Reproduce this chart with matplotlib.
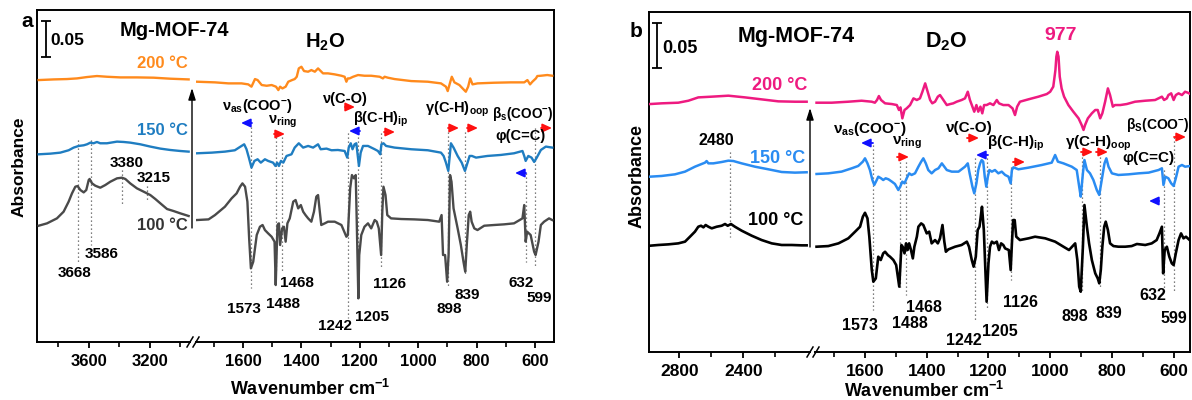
import matplotlib
matplotlib.use('Agg')
import matplotlib.pyplot as plt
from matplotlib.transforms import blended_transform_factory
from matplotlib.patches import FancyArrowPatch

plt.rcParams['font.family'] = ['Liberation Sans', 'DejaVu Sans']
plt.rcParams['font.weight'] = 'bold'
plt.rcParams['mathtext.fontset'] = 'custom'
plt.rcParams['mathtext.rm'] = 'Liberation Sans:bold'
plt.rcParams['mathtext.it'] = 'Liberation Sans:bold'
plt.rcParams['mathtext.bf'] = 'Liberation Sans:bold'
plt.rcParams['mathtext.sf'] = 'Liberation Sans:bold'
plt.rcParams['mathtext.default'] = 'rm'

# ---------------- DATA (wavenumber in cm-1, absorbance change in mAbs) ----------------
# Panel a, high-wavenumber section
A_L_WN_100 = [3929, 3874, 3809, 3765, 3732, 3710, 3688, 3673, 3655, 3633, 3616, 3600, 3594, 3578, 3557, 3524,
              3491, 3458, 3414, 3381, 3359, 3327, 3283, 3239, 3195, 3162, 3129, 3085, 3042, 2998, 2943]
A_L_100 = [-7.9, -4.6, 2.3, 11.6, 25.5, 37, 46.3, 47.2, 41.7, 38.4, 41.7, 55.6, 57, 50.9, 47.7, 44.9,
           48.6, 53.2, 57.9, 58.8, 57, 50.9, 44, 39.4, 34.7, 29.2, 23.2, 15.3, 12.5, 9.3, 5.6]
A_L_WN_150 = [3929, 3852, 3787, 3732, 3699, 3666, 3633, 3611, 3589, 3568, 3546, 3524, 3480, 3414, 3370, 3327,
              3261, 3195, 3129, 3064, 2998, 2943]
A_L_150 = [-1.4, -0.5, 0.9, 4.2, 7.9, 10.2, 11.1, 12.5, 14.8, 13.9, 15.7, 13.9, 13.9, 16.2, 15.7, 14.8,
           12.5, 9.3, 6.5, 4.6, 3.2, 2.3]
A_L_WN_200 = [3929, 3830, 3743, 3677, 3611, 3546, 3480, 3392, 3283, 3173, 3064, 2943]
A_L_200 = [2.3, 3.2, 3.7, 4.6, 6.5, 7.9, 6.9, 6, 6, 5.6, 4.2, 3.2]

# Panel a, fingerprint section
A_R_WN_100 = [1758, 1718, 1696, 1662, 1639, 1622, 1610, 1602, 1593, 1585, 1579, 1573, 1565, 1553, 1542, 1533,
              1525, 1514, 1502, 1492, 1488, 1485, 1482, 1477, 1473, 1466, 1460, 1454, 1448, 1440, 1428, 1420,
              1411, 1402, 1394, 1386, 1377, 1366, 1357, 1349, 1343, 1337, 1332, 1320, 1309, 1286, 1263, 1246,
              1241, 1233, 1227, 1220, 1214, 1210, 1205, 1202, 1195, 1184, 1172, 1161, 1149, 1142, 1135, 1127,
              1123, 1119, 1112, 1106, 1093, 1058, 1013, 967, 928, 920, 915, 908, 901, 896, 891, 886,
              879, 865, 854, 845, 839, 833, 827, 822, 817, 808, 797, 774, 740, 706, 672, 643,
              637, 632, 627, 615, 603, 598, 588, 580, 569, 552, 541]
A_R_100 = [0, 0.9, 6.9, 18.5, 30.1, 37, 46.3, 50.9, 46.3, 25.5, -25.5, -67.1, -57.9, -20.8, -9.3, -6.9,
           -13.9, -18.5, -23.2, -30.1, -90.3, -48, -7, -4.6, -34.7, -11.6, -9.3, -30.1, -4.6, 2.3, 25.5, 27.8,
           16.2, 20.8, 11.6, 6.9, 2.3, -2.3, 11.6, 32.4, 34.7, 11.6, -6.9, -4.6, -2.3, -2.3, -6.9, -23.2,
           -20.8, 44, 62.5, 57.9, 62.5, -11.6, -108.8, -48.6, -20.8, -9.3, -4.6, -11.6, 0, -2.3, -11.6, -48.6,
           11.6, 46.3, 34.7, 6.9, 2.3, 1.4, 0.9, 0, -2.3, 6.9, -48.6, -48.6, -85.7, -48.6, 62.5, 53.2,
           16.2, -11.6, -34.7, -57.9, -71.8, -30.1, 6.9, 11.6, -2.3, -11.6, -13.9, -7.9, -6.9, -6, -4.6, 2.3,
           20.8, -30.1, -16.2, -20.8, -44, -48.6, -30.1, -6.9, -2.3, 2.3, 0]
A_R_WN_150 = [1758, 1707, 1662, 1628, 1605, 1596, 1588, 1580, 1571, 1561, 1550, 1539, 1525, 1514, 1497, 1489,
              1483, 1477, 1470, 1462, 1451, 1434, 1423, 1409, 1394, 1377, 1360, 1343, 1334, 1314, 1297, 1275,
              1252, 1243, 1238, 1231, 1225, 1218, 1212, 1207, 1203, 1197, 1189, 1172, 1149, 1138, 1130, 1126,
              1119, 1110, 1081, 1024, 967, 922, 913, 905, 897, 892, 888, 879, 865, 851, 840, 831,
              824, 816, 802, 763, 717, 672, 643, 637, 632, 623, 612, 603, 594, 580, 563, 541]
A_R_150 = [0, 0.9, 2.3, 4.2, 10.2, 12.5, 5.6, -6, -19.9, -10.6, -8.3, -13, -8.3, -10.6, -13, -17.6,
           -13, -17.6, -10.6, -13, -3.7, -1.4, 7.9, 13.9, 7.9, 10.2, 7.9, 12.5, 5.6, 6.5, 4.2, 4.6,
           3.2, -6, 7.9, 13.9, 5.6, 12.5, 13.9, -3.7, -17.6, 0.9, 10.2, 10.2, 5.6, 3.2, -1.4, 12.5,
           13.9, 10.2, 7.9, 5.6, 4.2, 0.9, -3.7, -13, -24.5, -3.7, 13.9, 7.9, -3.7, -13, -24.5, -13,
           -3.7, -3.7, -6, -3.7, -2.3, 0, 3.2, -3.7, -10.6, -3.7, -6, -12, -6, 4.6, 9.3, 7.9]
A_R_WN_200 = [1758, 1696, 1650, 1605, 1582, 1571, 1559, 1550, 1536, 1519, 1502, 1487, 1479, 1473, 1465, 1454,
              1445, 1432, 1423, 1416, 1409, 1400, 1391, 1377, 1366, 1354, 1343, 1326, 1309, 1286, 1263, 1252,
              1246, 1241, 1235, 1223, 1206, 1184, 1161, 1132, 1121, 1115, 1104, 1081, 1024, 967, 922, 905,
              899, 890, 885, 876, 859, 848, 837, 829, 822, 814, 797, 740, 683, 637, 626, 617,
              609, 597, 592, 580, 558, 541]
A_R_200 = [0, -0.9, -2.3, -2.3, -3.7, -6.9, 3.7, 2.3, -4.6, -5.6, -4.6, -6.9, -11.6, -6.9, -9.3, -6.9,
           0, 2.3, 3.7, 6.9, 18.5, 20.8, 14.8, 13.9, 16.2, 13.9, 18.5, 11.6, 11.6, 10.2, 8.3, 6.9,
           0, 4.6, 4.6, 6.9, 9.3, 8.3, 8.3, 6.9, 4.6, 6.9, 5.6, 3.7, 0.9, 0, -2.3, -6.9,
           -13, 0, 6.9, -0.9, -4.6, -9.3, -13.9, -6.9, 4.6, -3.7, -2.3, -1.4, -0.9, -0.9, 2.3, -3.7,
           0, 4.6, 7.9, 8.3, 9.3, 8.3]

# Panel b, high-wavenumber section
B_L_WN_100 = [2983, 2931, 2868, 2806, 2764, 2733, 2702, 2681, 2664, 2649, 2635, 2618, 2597, 2566, 2535, 2514,
              2497, 2477, 2452, 2410, 2347, 2285, 2222, 2160, 2097, 2035, 2004]
B_L_100 = [1.1, 1.9, 2.6, 3.7, 5.6, 11.1, 16.7, 22.2, 23.3, 21.5, 24.1, 22.2, 20.4, 22.2, 23.3, 25.2,
           23.3, 25.2, 22.2, 17.8, 12.2, 7.4, 3.7, 1.9, 1.9, 1.5, 1.5]
B_L_WN_150 = [2983, 2910, 2827, 2764, 2702, 2660, 2639, 2629, 2618, 2587, 2535, 2493, 2462, 2410, 2327, 2243,
              2160, 2077, 2004]
B_L_150 = [-3, -2.2, -0.4, 2.6, 8.1, 11.1, 12.6, 14.4, 11.8, 11.8, 13.3, 14.8, 14.4, 11.8, 8.1, 5.2,
           2.2, 1.5, 1.9]
B_L_WN_200 = [2983, 2910, 2806, 2743, 2681, 2597, 2493, 2389, 2285, 2181, 2077, 2004]
B_L_200 = [-1.5, -0.7, 0, 2.2, 5.9, 6.7, 7.8, 5.9, 3.7, 1.5, 1.1, 1.1]

# Panel b, fingerprint section
B_R_WN_100 = [1757, 1719, 1686, 1654, 1632, 1616, 1607, 1600, 1592, 1586, 1578, 1573, 1565, 1557, 1549, 1541,
              1535, 1526, 1519, 1508, 1499, 1489, 1485, 1482, 1478, 1472, 1467, 1462, 1457, 1451, 1445, 1440,
              1432, 1427, 1418, 1411, 1400, 1392, 1384, 1373, 1364, 1357, 1349, 1343, 1338, 1330, 1308, 1287,
              1270, 1263, 1254, 1248, 1241, 1235, 1229, 1225, 1221, 1215, 1210, 1206, 1200, 1195, 1189, 1182,
              1173, 1166, 1159, 1152, 1146, 1134, 1128, 1124, 1120, 1115, 1110, 1098, 1070, 1049, 1016, 984,
              957, 939, 919, 912, 906, 901, 894, 889, 881, 874, 865, 854, 846, 841, 836, 831,
              825, 820, 813, 806, 795, 779, 757, 736, 719, 692, 671, 655, 646, 638, 634, 629,
              622, 614, 606, 600, 593, 584, 576, 568, 560, 546]
B_R_100 = [0, 0.7, 3.7, 9.3, 16.7, 22.2, 33.3, 37.7, 31.5, 11.1, -25.9, -38.9, -35.2, -11.1, -14.8, -7.4,
           -5.6, -9.3, -11.1, -14.8, -20.4, -44.4, -18.5, 1.9, 0, -7.4, 3.7, -3.7, 3.7, -3.7, -13, 0,
           11.1, 22.2, 25.9, 24.1, 14.8, 16.7, 3.7, 7.4, 3.7, 9.3, 24.1, 5.6, -5.6, -3, 0, 1.9,
           5.6, 0, -14.8, -22.2, -11.1, 18.5, 22.2, 33.3, 44.4, 18.5, -25.9, -61.1, -18.5, 0, 5.6, 3.7,
           5.6, -3.7, 3.7, 1.9, -1.9, -3.7, -25.9, 3.7, 29.6, 29.6, 11.1, 7.4, 9.3, 11.1, 9.3, 5.6,
           0, -3.7, 3.7, -14.8, -44.4, -50, 0, 46.3, 22.2, 3.7, -14.8, -29.6, -35.2, -40.7, -25.9, 0,
           22.2, 27.8, 18.5, 3.7, 0.7, 0, 0, 0.7, 3, 1.9, 3.7, 7.4, 14.8, 22.2, -29.6, -3.7,
           0, -11.1, -18.5, -20.4, -7.4, 7.4, 14.8, 9.3, 11.1, 6.7]
B_R_WN_150 = [1757, 1719, 1676, 1643, 1622, 1607, 1600, 1592, 1584, 1576, 1570, 1562, 1557, 1548, 1541, 1533,
              1524, 1513, 1503, 1492, 1486, 1479, 1472, 1465, 1457, 1449, 1438, 1427, 1418, 1411, 1403, 1395,
              1384, 1373, 1362, 1351, 1343, 1335, 1319, 1297, 1276, 1267, 1261, 1252, 1246, 1239, 1233, 1227,
              1222, 1217, 1212, 1207, 1202, 1197, 1189, 1179, 1168, 1157, 1146, 1135, 1128, 1124, 1119, 1103,
              1071, 1027, 995, 984, 975, 957, 930, 914, 906, 901, 894, 889, 881, 871, 860, 849,
              841, 833, 824, 818, 811, 800, 779, 746, 714, 681, 649, 638, 633, 627, 617, 608,
              600, 593, 584, 573, 563, 546]
B_R_150 = [0, 0.7, 2.6, 6.3, 8.9, 13.7, 17.4, 11.8, 4.4, -6.7, -12.2, -6.7, -3, -4.8, -6.7, -4.8,
           -5.9, -8.5, -11.1, -17.8, -14.1, -8.5, -10.4, -4.8, 0.7, -1.1, 0.7, 8.1, 13.7, 17.4, 11.8, 4.4,
           0.7, 4.4, 6.3, 11.8, 8.1, 4.4, 2.6, 2.6, 8.1, 11.8, 0.7, -14.1, -21.5, -10.4, 4.4, 11.8,
           15.5, 13.7, -3, -14.1, -3, 4.4, 2.6, 4.4, 0.7, 2.6, -1.1, -3, -10.4, 4.4, 7.4, 5.2,
           7, 10, 12.6, 21.1, 13.7, 11.8, 8.1, 4.4, -14.1, -25.2, 0.7, 15.5, 4.4, 0.7, -6.7, -17.8,
           -23.3, -6.7, 11.8, 17.4, 8.1, 0.7, -1.1, -0.4, 0.7, 1.5, 4.4, 6.3, -12.2, -3, -4.8, -10.4,
           -13.3, -4.8, 8.1, 10, 8.1, 8.9]
B_R_WN_200 = [1757, 1708, 1654, 1611, 1578, 1568, 1561, 1555, 1548, 1535, 1513, 1497, 1490, 1485, 1479, 1472,
              1465, 1454, 1443, 1432, 1422, 1414, 1405, 1397, 1389, 1382, 1373, 1364, 1357, 1346, 1335, 1324,
              1314, 1303, 1287, 1276, 1267, 1260, 1252, 1246, 1239, 1233, 1226, 1220, 1214, 1206, 1195, 1184,
              1173, 1166, 1152, 1135, 1122, 1114, 1107, 1098, 1071, 1038, 1011, 1000, 990, 983, 980, 977,
              973, 969, 963, 955, 941, 925, 908, 898, 892, 887, 878, 865, 854, 846, 838, 831,
              822, 813, 806, 797, 790, 773, 752, 725, 692, 660, 638, 631, 622, 617, 608, 600,
              593, 584, 573, 563, 554, 546]
B_R_200 = [0, 0, 1.1, 2.2, 1.1, 0, 3, 7.4, 3, -0.7, -1.5, -2.6, -8.1, -5.2, -17.4, -8.1,
           -6.3, -2.6, 4.8, 3, 4.8, 12.2, 21.5, 12.2, 3, -0.7, 1.1, 6.7, 8.5, 3, -2.6, -1.5,
           -0.7, 1.1, 3, 4.8, 12.2, 3, -4.4, -10, -2.6, -10, -4.4, -11.8, -2.6, -2.6, -0.7, -2.6,
           3, -0.7, -2.6, -2.6, -6.3, -13.7, -4.4, 1.1, 3.7, 6.7, 9.6, 12.2, 17.8, 36.3, 51.1, 56.6,
           51.1, 28.9, 15.9, 6.7, -2.6, -10, -17.4, -24.8, -30.3, -24.8, -17.4, -11.8, -8.1, -8.1, -17.4, -11.8,
           1.1, 15.9, 8.5, -4.4, -2.6, -2.6, -1.5, 1.1, 2.2, 3, 6.7, 3, 4.8, 8.5, 10.4, 3,
           8.5, 10.4, 8.5, 12.2, 11.1, 9.6]

# Stacking baselines (absorbance)
A_BASE = {'100': 0.1694, '150': 0.2621, '200': 0.3615}
B_BASE = {'100': 0.117, '150': 0.1978, '200': 0.277}

# Marked band positions
A_HI_PEAKS = [3668, 3586, 3380, 3215]
FP_PEAKS = [1573, 1488, 1468, 1242, 1205, 1126, 898, 839, 632, 599]
B_HI_PEAKS = [2480]

# ---------------- FIGURE ----------------
W, H = 1192, 400
fig = plt.figure(figsize=(W / 100, H / 100), dpi=100)


def rect(x0, x1, ytop, ybot):
    return [x0 / W, 1 - ybot / H, (x1 - x0) / W, (ybot - ytop) / H]


def ftext(x, y, s, **kw):
    kw.setdefault('ha', 'left')
    kw.setdefault('va', 'baseline')
    fig.text(x / W, 1 - y / H, s, **kw)


def harrow(x0, x1, y, color):
    p = FancyArrowPatch((x0 / W, 1 - y / H), (x1 / W, 1 - y / H), transform=fig.transFigure,
                        arrowstyle='-|>,head_length=0.55,head_width=0.25', mutation_scale=10,
                        color=color, lw=1.3, shrinkA=0, shrinkB=0)
    fig.add_artist(p)


def varrow(x, y0, y1):
    p = FancyArrowPatch((x / W, 1 - y0 / H), (x / W, 1 - y1 / H), transform=fig.transFigure,
                        arrowstyle='-|>,head_length=0.7,head_width=0.22', mutation_scale=10,
                        color='black', lw=1.0, shrinkA=0, shrinkB=0)
    fig.add_artist(p)


def vdot(ax, wn, ytop, ybot):
    tr = blended_transform_factory(ax.transData, fig.transFigure)
    ax.plot([wn, wn], [1 - ytop / H, 1 - ybot / H], transform=tr, ls=(0, (1, 2.2)), lw=0.9,
            color='#555555', zorder=1)


def breakmark(x, y):
    for dx in (0, 6):
        fig.add_artist(plt.Line2D([(x + dx - 3) / W, (x + dx + 3) / W], [1 - (y + 5) / H, 1 - (y - 5) / H],
                                  transform=fig.transFigure, color='black', lw=1.1))


def frame(r):
    ax = fig.add_axes(r)
    ax.set_xticks([])
    ax.set_yticks([])
    ax.spines['bottom'].set_visible(False)
    for s in ('left', 'right', 'top'):
        ax.spines[s].set_linewidth(1.4)
    return ax


def sub(r, xlim, ylim, major, minor, lsize, pad):
    ax = fig.add_axes(r, facecolor='none')
    ax.set_xlim(*xlim)
    ax.set_ylim(*ylim)
    for s in ('left', 'right', 'top'):
        ax.spines[s].set_visible(False)
    ax.spines['bottom'].set_linewidth(1.4)
    ax.set_yticks([])
    ax.set_xticks(major)
    ax.set_xticks(minor, minor=True)
    ax.tick_params(axis='x', which='major', direction='out', length=4.5, width=1.3, pad=pad, labelsize=lsize)
    ax.tick_params(axis='x', which='minor', direction='out', length=3.5, width=1.2)
    return ax


def curve(ax, wn, vals, base, color, lw):
    ax.plot(wn, [base + v / 1000.0 for v in vals], color=color, lw=lw, zorder=3, solid_joinstyle='round')


ORANGE = '#FF8A1C'
BLUE_A = '#1F7DC1'
GRAY = '#4A4A4A'
PINK = '#EE1A80'
BLUE_B = '#2A8CF2'
RED = '#FF1010'
BLUE_ARW = '#1010FF'

# ======== Panel a ========
YA = (0, 332 / 720)
frame(rect(37, 554, 10, 342))
axaL = sub(rect(37, 190, 10, 342), (3940, 2934), YA, [3600, 3200], [3800, 3400, 3000], 12, 4.5)
axaR = sub(rect(196, 554, 10, 342), (1761, 535), YA, [1600, 1400, 1200, 1000, 800, 600],
           [1700, 1500, 1300, 1100, 900, 700], 12, 4.5)

curve(axaL, A_L_WN_200, A_L_200, A_BASE['200'], ORANGE, 1.7)
curve(axaL, A_L_WN_150, A_L_150, A_BASE['150'], BLUE_A, 1.7)
curve(axaL, A_L_WN_100, A_L_100, A_BASE['100'], GRAY, 1.7)
curve(axaR, A_R_WN_200, A_R_200, A_BASE['200'], ORANGE, 1.7)
curve(axaR, A_R_WN_150, A_R_150, A_BASE['150'], BLUE_A, 1.7)
curve(axaR, A_R_WN_100, A_R_100, A_BASE['100'], GRAY, 1.7)

# scale bar 0.05
axaL.errorbar([3883], [(342 - 39) / 720], yerr=[0.025], color='black', lw=1.3, capsize=3.5, capthick=1.3)

for wn, yt, yb in zip(A_HI_PEAKS, [140, 140, 170, 186], [262, 245, 205, 202]):
    vdot(axaL, wn, yt, yb)
for wn, yt, yb in zip(FP_PEAKS, [127, 137, 137, 133, 133, 133, 132, 132, 173, 128],
                      [288, 270, 272, 318, 300, 268, 288, 275, 262, 268]):
    vdot(axaR, wn, yt, yb)

ftext(27, 27, 'a', ha='center', fontsize=15)
ftext(50, 45, '0.05', fontsize=12.5)
ftext(120, 36, 'Mg-MOF-74', fontsize=14.5)
ftext(305, 48, 'H$_2$O', fontsize=14.5)
ftext(188, 68, '200 °C', ha='right', fontsize=12, color=ORANGE)
ftext(188, 135, '150 °C', ha='right', fontsize=12, color=BLUE_A)
ftext(188, 230, '100 °C', ha='right', fontsize=12, color='#333333')
for s, x, y in [('3380', 127, 167), ('3215', 154, 182), ('3586', 102, 258), ('3668', 75, 277)]:
    ftext(x, y, s, ha='center', fontsize=11)
for s, x, y in [('1468', 297, 287), ('1573', 244, 313), ('1488', 283, 308), ('1242', 335, 330),
                ('1205', 372, 321), ('1126', 390, 288), ('898', 449, 313), ('839', 467, 299),
                ('632', 521, 287), ('599', 539, 302)]:
    ftext(x, y, s, ha='center', fontsize=11)

BL = 10.5
ftext(222, 110, 'ν$_{as}$(COO$^{-}$)', fontsize=BL)
ftext(268, 124, 'ν$_{ring}$', fontsize=BL)
ftext(323, 103, 'ν(C-O)', fontsize=BL)
ftext(353, 123, 'β(C-H)$_{ip}$', fontsize=BL)
ftext(425, 113, 'γ(C-H)$_{oop}$', fontsize=BL)
ftext(492, 118, 'β$_{s}$(COO$^{-}$)', fontsize=9.8)
ftext(495, 140, 'φ(C=C)', fontsize=BL)

harrow(252, 241, 123, BLUE_ARW)
harrow(274, 285, 134, RED)
harrow(345, 355, 107, RED)
harrow(360, 349, 131, BLUE_ARW)
harrow(384, 395, 132, RED)
harrow(448, 459, 128, RED)
harrow(467, 478, 128, RED)
harrow(541, 552, 128, RED)
harrow(526, 515, 173, BLUE_ARW)

varrow(192, 228, 88)
breakmark(190, 342)
ftext(310, 395, 'Wavenumber cm$^{-1}$', ha='center', fontsize=13)
ftext(19, 167, 'Absorbance', ha='center', va='center', rotation=90, fontsize=12.5)

# ======== Panel b ========
YB = (0, 340 / 900)
frame(rect(649, 1190, 12, 352))
axbL = sub(rect(649, 810, 12, 352), (2989, 1983), YB, [2800, 2400], [2600, 2200], 12.5, 4.0)
axbR = sub(rect(815, 1190, 12, 352), (1762, 547), YB, [1600, 1400, 1200, 1000, 800, 600],
           [1700, 1500, 1300, 1100, 900, 700], 12.5, 4.0)

curve(axbL, B_L_WN_200, B_L_200, B_BASE['200'], PINK, 1.8)
curve(axbL, B_L_WN_150, B_L_150, B_BASE['150'], BLUE_B, 1.8)
curve(axbL, B_L_WN_100, B_L_100, B_BASE['100'], 'black', 1.9)
curve(axbR, B_R_WN_200, B_R_200, B_BASE['200'], PINK, 1.8)
curve(axbR, B_R_WN_150, B_R_150, B_BASE['150'], BLUE_B, 1.8)
curve(axbR, B_R_WN_100, B_R_100, B_BASE['100'], 'black', 1.9)

axbL.errorbar([2939], [(352 - 45.5) / 900], yerr=[0.025], color='black', lw=1.3, capsize=3.5, capthick=1.3)

vdot(axbL, B_HI_PEAKS[0], 152, 237)
for wn, yt, yb in zip(FP_PEAKS, [145, 162, 162, 158, 158, 167, 153, 153, 170, 137],
                      [310, 290, 295, 320, 310, 280, 292, 287, 293, 293]):
    vdot(axbR, wn, yt, yb)

ftext(636, 37, 'b', ha='center', fontsize=15)
ftext(662, 53, '0.05', fontsize=13)
ftext(738, 42, 'Mg-MOF-74', fontsize=15.5)
ftext(925, 47, 'D$_2$O', fontsize=15.5)
ftext(1061, 40, '977', ha='center', fontsize=14, color=PINK)
ftext(807, 90, '200 °C', ha='right', fontsize=13, color=PINK)
ftext(805, 163, '150 °C', ha='right', fontsize=13, color=BLUE_B)
ftext(803, 225, '100 °C', ha='right', fontsize=13, color='black')
ftext(716, 145, '2480', ha='center', fontsize=11.5)
for s, x, y in [('1573', 860, 330), ('1488', 910, 328), ('1468', 924, 312), ('1242', 964, 345),
                ('1205', 1000, 336), ('1126', 1020, 307), ('898', 1075, 321), ('839', 1109, 318),
                ('632', 1153, 300), ('599', 1174, 323)]:
    ftext(x, y, s, ha='center', fontsize=11.5)

BL2 = 11
ftext(833, 133, 'ν$_{as}$(COO$^{-}$)', fontsize=BL2)
ftext(892, 145, 'ν$_{ring}$', fontsize=BL2)
ftext(946, 132, 'ν(C-O)', fontsize=BL2)
ftext(987, 147, 'β(C-H)$_{ip}$', fontsize=BL2)
ftext(1065, 147, 'γ(C-H)$_{oop}$', fontsize=BL2)
ftext(1122, 162, 'φ(C=C)', fontsize=BL2)
ftext(1126, 129, 'β$_{S}$(COO$^{-}$)', fontsize=10)

harrow(873, 861, 143, BLUE_ARW)
harrow(897, 909, 157, RED)
harrow(967, 979, 138, RED)
harrow(988, 976, 155, BLUE_ARW)
harrow(1013, 1025, 162, RED)
harrow(1081, 1093, 152, RED)
harrow(1096, 1108, 152, RED)
harrow(1174, 1186, 137, RED)
harrow(1159, 1149, 201, BLUE_ARW)

varrow(810, 247, 108)
breakmark(810, 352)
ftext(924, 397, 'Wavenumber cm$^{-1}$', ha='center', fontsize=13)
ftext(637, 176, 'Absorbance', ha='center', va='center', rotation=90, fontsize=13)

fig.savefig('out.png', dpi=100)
